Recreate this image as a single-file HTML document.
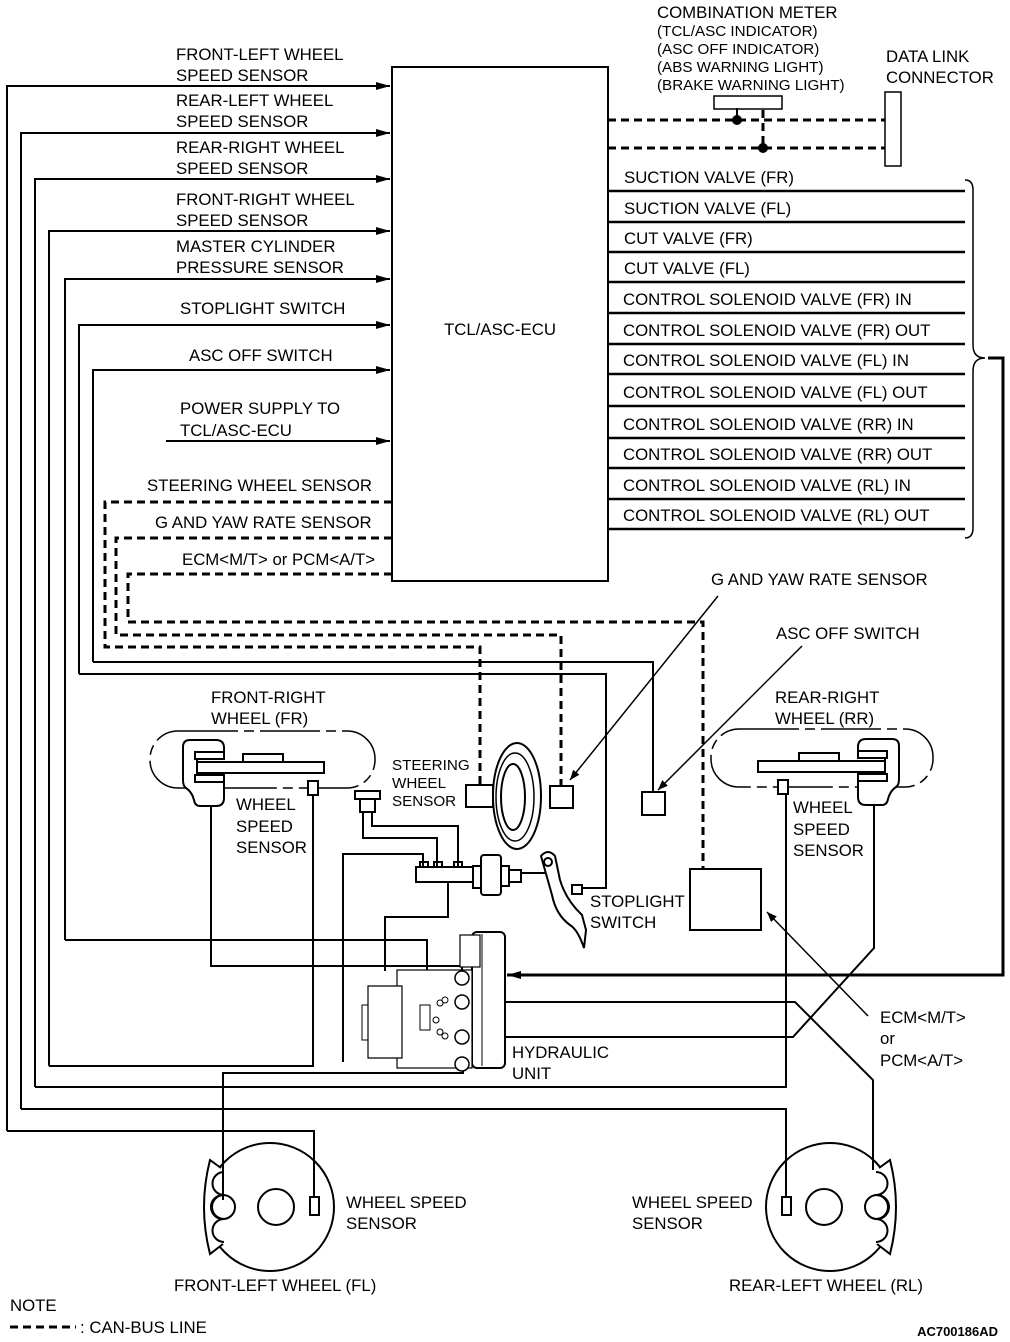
<!DOCTYPE html>
<html><head><meta charset="utf-8"><style>
html,body{margin:0;padding:0;background:#fff}
svg{display:block}
text{font-family:"Liberation Sans",Arial,sans-serif;font-size:16.8px;fill:#000}
.s{font-size:15.2px}
</style></head><body>
<svg width="1010" height="1342" viewBox="0 0 1010 1342" xmlns="http://www.w3.org/2000/svg">
<defs>
<marker id="a" markerWidth="14" markerHeight="8" refX="14" refY="4" orient="auto" markerUnits="userSpaceOnUse"><path d="M0,0 L14,4 L0,8 Z" fill="#000"/></marker>
<marker id="b" markerWidth="10" markerHeight="8" refX="10" refY="4" orient="auto" markerUnits="userSpaceOnUse"><path d="M0,0 L10,4 L0,8 Z" fill="#000"/></marker>
</defs>
<g fill="none" stroke="#000" stroke-width="2">
<rect x="392" y="67" width="216" height="514"/>
<polyline points="7,1131 7,86 390,86" marker-end="url(#a)"/>
<polyline points="21,1109 21,133 390,133" marker-end="url(#a)"/>
<polyline points="35,1087 35,179 390,179" marker-end="url(#a)"/>
<polyline points="49,1066 49,231 390,231" marker-end="url(#a)"/>
<polyline points="65,940 65,279 390,279" marker-end="url(#a)"/>
<polyline points="79,674 79,325 390,325" marker-end="url(#a)"/>
<polyline points="93,662 93,370 390,370" marker-end="url(#a)"/>
<line x1="166" y1="441" x2="390" y2="441" marker-end="url(#a)"/>
<polyline points="93,662 653,662 653,792"/>
<polyline points="79,674 606,674 606,888 582,888"/>
<polyline points="65,940 427,940 427,971"/>
<polyline points="49,1066 313,1066 313,795"/>
<polyline points="35,1087 786,1087 786,794"/>
<polyline points="21,1109 786,1109 786,1197"/>
<polyline points="7,1131 314,1131 314,1197"/>
<polyline points="211,806 211,966 462,966 462,976"/>
<polyline points="223,1200 223,1073 463,1073 463,1064"/>
<polyline points="462,1002 795,1002 873,1080 873,1170"/>
<polyline points="462,1037 793,1037 874,948 874,806"/>
<g stroke-width="2.5">
<line x1="608" y1="191" x2="965" y2="191"/><line x1="608" y1="222" x2="965" y2="222"/>
<line x1="608" y1="252" x2="965" y2="252"/><line x1="608" y1="282" x2="965" y2="282"/>
<line x1="608" y1="313" x2="965" y2="313"/><line x1="608" y1="344" x2="965" y2="344"/>
<line x1="608" y1="374" x2="965" y2="374"/><line x1="608" y1="406" x2="965" y2="406"/>
<line x1="608" y1="438" x2="965" y2="438"/><line x1="608" y1="468" x2="965" y2="468"/>
<line x1="608" y1="499" x2="965" y2="499"/><line x1="608" y1="529" x2="965" y2="529"/>
</g>
<path d="M965,180 Q973,180 973,190 V345 Q973,358 985,358 Q973,358 973,371 V528 Q973,538 965,538" stroke-width="1.5"/>
<polyline points="988,358 1003,358 1003,975 507,975" stroke-width="3" marker-end="url(#a)"/>
<g stroke-dasharray="8,5" stroke-width="3">
<line x1="608" y1="120" x2="885" y2="120"/>
<line x1="608" y1="148" x2="885" y2="148"/>
<line x1="763" y1="110" x2="763" y2="148"/>
<polyline points="392,502 105,502 105,647 480,647 480,785"/>
<polyline points="392,538 116,538 116,635 561,635 561,786"/>
<polyline points="392,574 128,574 128,622 703,622 703,869"/>
<line x1="10" y1="1327" x2="76" y2="1327"/>
</g>
<line x1="737" y1="108" x2="737" y2="120"/>
<rect x="714" y="96" width="68" height="13" stroke-width="1.5"/>
<rect x="885" y="92" width="16" height="74" stroke-width="1.5"/>
<rect x="466" y="785" width="27" height="22"/>
<rect x="550" y="786" width="23" height="22"/>
<rect x="642" y="792" width="23" height="23"/>
<rect x="690" y="869" width="71" height="61"/>
<g stroke-width="1.5">
<line x1="718" y1="596" x2="570" y2="780" marker-end="url(#b)"/>
<line x1="802" y1="646" x2="658" y2="790" marker-end="url(#b)"/>
<line x1="868" y1="1016" x2="767" y2="912" marker-end="url(#b)"/>
</g>
<g stroke-width="1.5" stroke-dasharray="60,6,10,6">
<rect x="150" y="731" width="225" height="57" rx="28"/>
<rect x="711" y="729" width="222" height="58" rx="28"/>
</g>
<g stroke-width="2" fill="#fff">
<rect x="243" y="754" width="40" height="8"/>
<rect x="197" y="762" width="127" height="11"/>
<path d="M190,740 H216 Q224,740 224,748 V752 H197 V782 H224 V798 Q224,806 216,806 H200 Q195,806 194,800 Q192,792 186,788 Q183,786 183,780 V747 Q183,740 190,740 Z"/>
<rect x="195" y="752" width="29" height="7"/><rect x="195" y="775" width="29" height="7"/>
<rect x="308" y="781" width="10" height="14"/>
<g transform="translate(1082,-1)scale(-1,1)">
<rect x="243" y="754" width="40" height="8"/>
<rect x="197" y="762" width="127" height="11"/>
<path d="M190,740 H216 Q224,740 224,748 V752 H197 V782 H224 V798 Q224,806 216,806 H200 Q195,806 194,800 Q192,792 186,788 Q183,786 183,780 V747 Q183,740 190,740 Z"/>
<rect x="195" y="752" width="29" height="7"/><rect x="195" y="775" width="29" height="7"/>
</g>
<rect x="778" y="780" width="10" height="14"/>
</g>
<ellipse cx="517" cy="796" rx="24" ry="53"/>
<ellipse cx="515" cy="797" rx="19" ry="44" stroke-width="1.5"/>
<ellipse cx="513" cy="797" rx="12" ry="33"/>
<g stroke-width="2">
<rect x="355" y="791" width="25" height="8"/><rect x="360" y="799" width="15" height="13"/>
<polyline points="363,812 363,838 437,838 437,866"/>
<polyline points="372,812 372,826 458,826 458,866"/>
<polyline points="343,1062 343,854 423,854 423,866"/>
<polyline points="448,882 448,917 385,917 385,971"/>
<rect x="416" y="867" width="57" height="15" fill="#fff"/>
<rect x="420" y="862" width="8" height="5"/><rect x="434" y="862" width="8" height="5"/><rect x="454" y="862" width="8" height="5"/>
<rect x="473" y="866" width="8" height="22"/>
<rect x="481" y="855" width="20" height="40" rx="3"/>
<rect x="501" y="866" width="8" height="20"/>
<rect x="509" y="870" width="12" height="12"/>
<line x1="521" y1="873" x2="548" y2="873"/>
<path d="M541,856 Q548,848 555,856 L560,880 Q566,900 582,915 L586,930 L584,948 Q578,930 570,925 Q556,915 552,895 Z" fill="#fff"/>
<circle cx="548" cy="862" r="4"/>
<rect x="572" y="885" width="10" height="9"/>
<rect x="472" y="932" width="33" height="136" rx="5" fill="#fff"/>
<line x1="482" y1="934" x2="482" y2="1066" stroke-width="1"/>
<rect x="460" y="935" width="20" height="32" fill="#fff" stroke-width="1.2"/>
<rect x="397" y="970" width="75" height="98" fill="#fff" stroke-width="1.2"/>
<path d="M368,986 H402 V1058 H368 Z" fill="#fff" stroke-width="1.2"/>
<rect x="362" y="1005" width="6" height="35" stroke-width="1"/>
<rect x="420" y="1005" width="10" height="25" stroke-width="1"/>
<g stroke-width="1.5" fill="#fff">
<circle cx="462" cy="978" r="7"/><circle cx="462" cy="1002" r="7"/>
<circle cx="462" cy="1037" r="7"/><circle cx="462" cy="1064" r="7"/>
</g>
<g stroke-width="1"><circle cx="440" cy="1003" r="3"/><circle cx="445" cy="1000" r="3"/><circle cx="436" cy="1020" r="3"/><circle cx="440" cy="1032" r="3"/><circle cx="445" cy="1036" r="3"/></g>
</g>
<g stroke-width="2">
<circle cx="270" cy="1207" r="64"/>
<circle cx="276" cy="1207" r="18"/>
<path d="M221,1168 L210,1160 Q198,1207 210,1254 L223,1244" fill="#fff"/>
<path d="M224,1172 a11,11 0 0 0 0,23 a12,12 0 0 0 0,24 a11,11 0 0 0 0,23"/>
<circle cx="223" cy="1207" r="12"/>
<rect x="310" y="1197" width="9" height="18"/>
<circle cx="830" cy="1207" r="64"/>
<circle cx="824" cy="1207" r="18"/>
<path d="M879,1168 L890,1160 Q902,1207 890,1254 L877,1244" fill="#fff"/>
<path d="M876,1172 a11,11 0 0 1 0,23 a12,12 0 0 1 0,24 a11,11 0 0 1 0,23"/>
<circle cx="877" cy="1207" r="12"/>
<rect x="782" y="1197" width="9" height="18"/>
</g>
</g>
<circle cx="737" cy="120" r="5"/><circle cx="763" cy="148" r="5"/>
<text x="176" y="60">FRONT-LEFT WHEEL</text><text x="176" y="81">SPEED SENSOR</text>
<text x="176" y="106">REAR-LEFT WHEEL</text><text x="176" y="127">SPEED SENSOR</text>
<text x="176" y="153">REAR-RIGHT WHEEL</text><text x="176" y="174">SPEED SENSOR</text>
<text x="176" y="205">FRONT-RIGHT WHEEL</text><text x="176" y="226">SPEED SENSOR</text>
<text x="176" y="252">MASTER CYLINDER</text><text x="176" y="273">PRESSURE SENSOR</text>
<text x="180" y="314">STOPLIGHT SWITCH</text>
<text x="189" y="361">ASC OFF SWITCH</text>
<text x="180" y="414">POWER SUPPLY TO</text><text x="180" y="436">TCL/ASC-ECU</text>
<text x="147" y="491">STEERING WHEEL SENSOR</text>
<text x="155" y="528">G AND YAW RATE SENSOR</text>
<text x="182" y="565">ECM&lt;M/T&gt; or PCM&lt;A/T&gt;</text>
<text x="500" y="335" text-anchor="middle">TCL/ASC-ECU</text>
<text x="657" y="18">COMBINATION METER</text>
<text class="s" x="657" y="36">(TCL/ASC INDICATOR)</text>
<text class="s" x="657" y="54">(ASC OFF INDICATOR)</text>
<text class="s" x="657" y="72">(ABS WARNING LIGHT)</text>
<text class="s" x="657" y="90">(BRAKE WARNING LIGHT)</text>
<text x="886" y="62">DATA LINK</text><text x="886" y="83">CONNECTOR</text>
<text x="624" y="183">SUCTION VALVE (FR)</text>
<text x="624" y="214">SUCTION VALVE (FL)</text>
<text x="624" y="244">CUT VALVE (FR)</text>
<text x="624" y="274">CUT VALVE (FL)</text>
<text x="623" y="305">CONTROL SOLENOID VALVE (FR) IN</text>
<text x="623" y="336">CONTROL SOLENOID VALVE (FR) OUT</text>
<text x="623" y="366">CONTROL SOLENOID VALVE (FL) IN</text>
<text x="623" y="398">CONTROL SOLENOID VALVE (FL) OUT</text>
<text x="623" y="430">CONTROL SOLENOID VALVE (RR) IN</text>
<text x="623" y="460">CONTROL SOLENOID VALVE (RR) OUT</text>
<text x="623" y="491">CONTROL SOLENOID VALVE (RL) IN</text>
<text x="623" y="521">CONTROL SOLENOID VALVE (RL) OUT</text>
<text x="711" y="585">G AND YAW RATE SENSOR</text>
<text x="776" y="639">ASC OFF SWITCH</text>
<text x="211" y="703">FRONT-RIGHT</text><text x="211" y="724">WHEEL (FR)</text>
<text x="775" y="703">REAR-RIGHT</text><text x="775" y="724">WHEEL (RR)</text>
<text x="392" y="770" class="s">STEERING</text><text x="392" y="788" class="s">WHEEL</text><text x="392" y="806" class="s">SENSOR</text>
<text x="236" y="810">WHEEL</text><text x="236" y="832">SPEED</text><text x="236" y="853">SENSOR</text>
<text x="793" y="813">WHEEL</text><text x="793" y="835">SPEED</text><text x="793" y="856">SENSOR</text>
<text x="590" y="907">STOPLIGHT</text><text x="590" y="928">SWITCH</text>
<text x="880" y="1023">ECM&lt;M/T&gt;</text><text x="880" y="1044">or</text><text x="880" y="1066">PCM&lt;A/T&gt;</text>
<text x="512" y="1058">HYDRAULIC</text><text x="512" y="1079">UNIT</text>
<text x="346" y="1208">WHEEL SPEED</text><text x="346" y="1229">SENSOR</text>
<text x="632" y="1208">WHEEL SPEED</text><text x="632" y="1229">SENSOR</text>
<text x="174" y="1291">FRONT-LEFT WHEEL (FL)</text>
<text x="729" y="1291">REAR-LEFT WHEEL (RL)</text>
<text x="10" y="1311">NOTE</text>
<text x="80" y="1333">: CAN-BUS LINE</text>
<text x="998" y="1336" text-anchor="end" style="font-size:13px;font-weight:bold">AC700186AD</text>
</svg>
</body></html>
